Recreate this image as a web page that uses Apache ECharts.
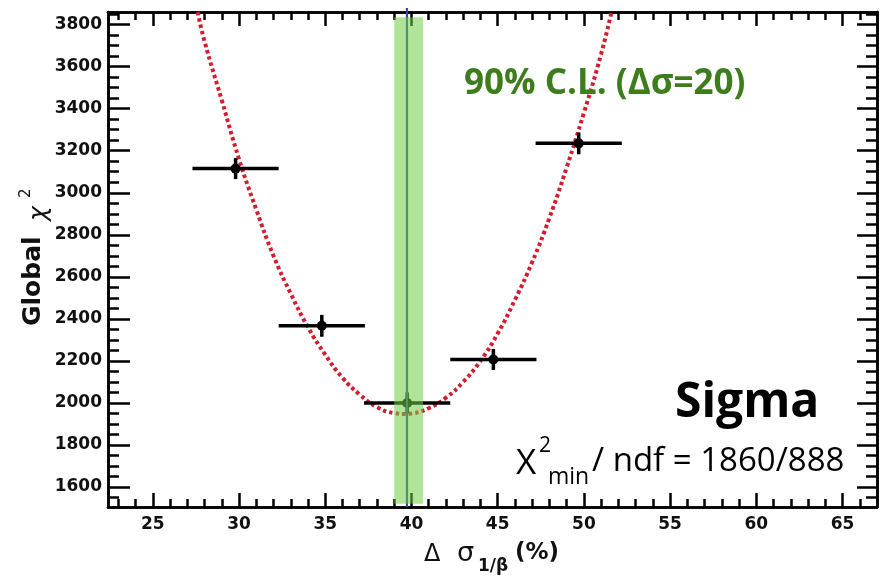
<!DOCTYPE html>
<html>
<head>
<meta charset="utf-8">
<script src="https://cdn.jsdelivr.net/npm/echarts@6/dist/echarts.min.js"></script>
<style>
  html, body { margin: 0; padding: 0; background: #ffffff; }
  #chart { width: 885px; height: 578px; }
</style>
</head>
<body>
<div id="chart"></div>
<script>
// Global chi-square scan versus the smearing width of 1/beta
const scanX = [29.8, 34.8, 39.75, 44.75, 49.7];
const scanChi2 = [3115, 2367, 2000, 2207, 3235];
const scanHalfWidth = [2.5, 2.5, 2.5, 2.5, 2.5];
const scanChi2Err = [50, 52, 50, 50, 52];

// Parabolic fit through the scan (dotted red curve)
const fitX = [27.6, 28, 29, 30, 31, 32, 33, 34, 35, 36, 37, 38, 39, 39.6, 40, 41, 42, 43, 44, 45, 46, 47, 48, 49, 50, 51, 51.6];
const fitChi2 = [3860, 3720, 3440, 3160, 2920, 2700, 2520, 2360, 2230, 2120, 2040, 1980, 1952, 1948, 1950, 1975, 2025, 2100, 2200, 2330, 2490, 2670, 2880, 3120, 3380, 3660, 3860];

// Best value and its 90% C.L. band
const bestSigma = [39.74];
const clBandX = [39.0, 40.67];
const clBandChi2 = [1520, 3835];

// Axis ranges and tick positions
const xRange = [22.4, 67];
const yRange = [1505, 3860];
const xMajorTicks = [25, 30, 35, 40, 45, 50, 55, 60, 65];
const xMinorTicks = [23, 24, 25, 26, 27, 28, 29, 30, 31, 32, 33, 34, 35, 36, 37, 38, 39, 40, 41, 42, 43, 44, 45, 46, 47, 48, 49, 50, 51, 52, 53, 54, 55, 56, 57, 58, 59, 60, 61, 62, 63, 64, 65, 66];
const yMajorTicks = [1600, 1800, 2000, 2200, 2400, 2600, 2800, 3000, 3200, 3400, 3600, 3800];
const yMinorTicks = [1550, 1600, 1650, 1700, 1750, 1800, 1850, 1900, 1950, 2000, 2050, 2100, 2150, 2200, 2250, 2300, 2350, 2400, 2450, 2500, 2550, 2600, 2650, 2700, 2750, 2800, 2850, 2900, 2950, 3000, 3050, 3100, 3150, 3200, 3250, 3300, 3350, 3400, 3450, 3500, 3550, 3600, 3650, 3700, 3750, 3800, 3850];

const chart = echarts.init(document.getElementById('chart'), null, { renderer: 'canvas' });

const FRAME = '#000000';
const LW = 2.5;
const tickFont = { fontFamily: 'DejaVu Sans', fontWeight: 'bold', fontSize: 17, color: '#111' };

function makeAxis(kind, position, ticks, len, labels) {
  const range = kind === 'x' ? xRange : yRange;
  return {
    type: 'value',
    position: position,
    min: range[0],
    max: range[1],
    scale: true,
    splitLine: { show: false },
    axisLine: { show: true, onZero: false, lineStyle: { color: FRAME, width: LW } },
    axisTick: { show: true, inside: true, length: len, customValues: ticks, lineStyle: { color: FRAME, width: LW } },
    axisLabel: labels
      ? Object.assign({
          show: true,
          customValues: labels,
          margin: kind === 'x' ? 9 : 6,
          formatter: function (v) { return String(Math.round(v)); }
        }, tickFont)
      : { show: false }
  };
}

const xAxes = [
  makeAxis('x', 'bottom', xMajorTicks, 14, xMajorTicks),
  makeAxis('x', 'bottom', xMinorTicks, 8, null),
  makeAxis('x', 'top', xMajorTicks, 14, null),
  makeAxis('x', 'top', xMinorTicks, 8, null)
];
const yAxes = [
  makeAxis('y', 'left', yMajorTicks, 22, yMajorTicks),
  makeAxis('y', 'left', yMinorTicks, 11, null),
  makeAxis('y', 'right', yMajorTicks, 20, null),
  makeAxis('y', 'right', yMinorTicks, 11, null)
];

const scanData = scanX.map((x, i) => [x, scanChi2[i], scanHalfWidth[i], scanChi2Err[i]]);
const fitData = fitX.map((x, i) => [x, fitChi2[i]]);

const option = {
  animation: false,
  backgroundColor: '#ffffff',
  grid: { left: 108, top: 12, right: 8, bottom: 71, containLabel: false },
  xAxis: xAxes,
  yAxis: yAxes,
  series: [
    {
      type: 'line',
      name: 'fit',
      data: fitData,
      showSymbol: false,
      smooth: true,
      clip: true,
      z: 2,
      lineStyle: { color: '#d41c2c', width: 4, type: [3.5, 3] }
    },
    {
      type: 'custom',
      name: 'scan',
      data: scanData,
      z: 3,
      renderItem: function (params, api) {
        const x = api.value(0), y = api.value(1), xe = api.value(2), ye = api.value(3);
        const c = api.coord([x, y]);
        const l = api.coord([x - xe, y]);
        const r = api.coord([x + xe, y]);
        const t = api.coord([x, y + ye]);
        const b = api.coord([x, y - ye]);
        return {
          type: 'group',
          children: [
            { type: 'line', shape: { x1: l[0], y1: l[1], x2: r[0], y2: r[1] }, style: { stroke: '#000', lineWidth: 3.5 } },
            { type: 'line', shape: { x1: t[0], y1: t[1], x2: b[0], y2: b[1] }, style: { stroke: '#000', lineWidth: 3.5 } },
            { type: 'circle', shape: { cx: c[0], cy: c[1], r: 5 }, style: { fill: '#000' } }
          ]
        };
      }
    },
    {
      type: 'custom',
      name: 'best',
      data: bestSigma.map(v => [v]),
      z: 4,
      renderItem: function (params, api) {
        const v = api.value(0);
        const p0 = api.coord([v, yRange[0]]);
        const p1 = api.coord([v, yRange[1]]);
        return { type: 'line', shape: { x1: p0[0], y1: p0[1], x2: p1[0], y2: p1[1] - 4 }, style: { stroke: '#2e4aa8', lineWidth: 2.2 } };
      }
    },
    {
      type: 'custom',
      name: 'band',
      data: [[clBandX[0], clBandX[1], clBandChi2[0], clBandChi2[1]]],
      z: 5,
      renderItem: function (params, api) {
        const a = api.coord([api.value(0), api.value(3)]);
        const b = api.coord([api.value(1), api.value(2)]);
        return {
          type: 'rect',
          shape: { x: a[0], y: a[1], width: b[0] - a[0], height: b[1] - a[1] },
          style: { fill: 'rgba(110, 205, 70, 0.55)' }
        };
      }
    }
  ],
  graphic: [
    {
      type: 'text', left: 464, top: 67, z: 10,
      style: { text: '90% C.L. (Δσ=20)', fontFamily: 'Open Sans', fontWeight: 'bold', fontSize: 35, fill: '#3d7d1c' }
    },
    {
      type: 'text', left: 675, top: 379, z: 10,
      style: { text: 'Sigma', fontFamily: 'Open Sans', fontWeight: 'bold', fontSize: 48, fill: '#000' }
    },
    {
      type: 'text', left: 516, top: 447, z: 10,
      style: { text: 'Χ', fontFamily: 'Open Sans', fontSize: 35, fill: '#000' }
    },
    {
      type: 'text', left: 539, top: 436, z: 10,
      style: { text: '2', fontFamily: 'Open Sans', fontSize: 21, fill: '#000' }
    },
    {
      type: 'text', left: 548, top: 466, z: 10,
      style: { text: 'min', fontFamily: 'Open Sans', fontSize: 23, fill: '#000' }
    },
    {
      type: 'text', left: 592, top: 445, z: 10,
      style: { text: '/ ndf = 1860/888', fontFamily: 'Open Sans', fontSize: 33, fill: '#000' }
    },
    // y-axis title
    {
      type: 'text', x: 21, y: 326, rotation: Math.PI / 2, z: 10,
      style: { text: 'Global ', fontFamily: 'DejaVu Sans', fontWeight: 'bold', fontSize: 25, fill: '#111', align: 'left', verticalAlign: 'top' }
    },
    {
      type: 'text', x: 27, y: 221, rotation: Math.PI / 2, z: 10,
      style: { text: 'χ', fontFamily: 'DejaVu Sans', fontStyle: 'italic', fontSize: 25, fill: '#111', align: 'left', verticalAlign: 'top' }
    },
    {
      type: 'text', x: 19, y: 198, rotation: Math.PI / 2, z: 10,
      style: { text: '2', fontFamily: 'DejaVu Sans', fontSize: 15, fill: '#111', align: 'left', verticalAlign: 'top' }
    },
    // x-axis title
    {
      type: 'text', left: 424, top: 543, z: 10,
      style: { text: 'Δ', fontFamily: 'DejaVu Sans', fontSize: 24, fill: '#111' }
    },
    {
      type: 'text', left: 457, top: 540, z: 10,
      style: { text: 'σ', fontFamily: 'DejaVu Sans', fontSize: 27, fill: '#111' }
    },
    {
      type: 'text', left: 478, top: 558, z: 10,
      style: { text: '1/β', fontFamily: 'DejaVu Sans', fontWeight: 'bold', fontSize: 17, fill: '#111' }
    },
    {
      type: 'text', left: 515, top: 542, z: 10,
      style: { text: '(%)', fontFamily: 'DejaVu Sans', fontWeight: 'bold', fontSize: 23, fill: '#111' }
    }
  ]
};

chart.setOption(option);
</script>
</body>
</html>
